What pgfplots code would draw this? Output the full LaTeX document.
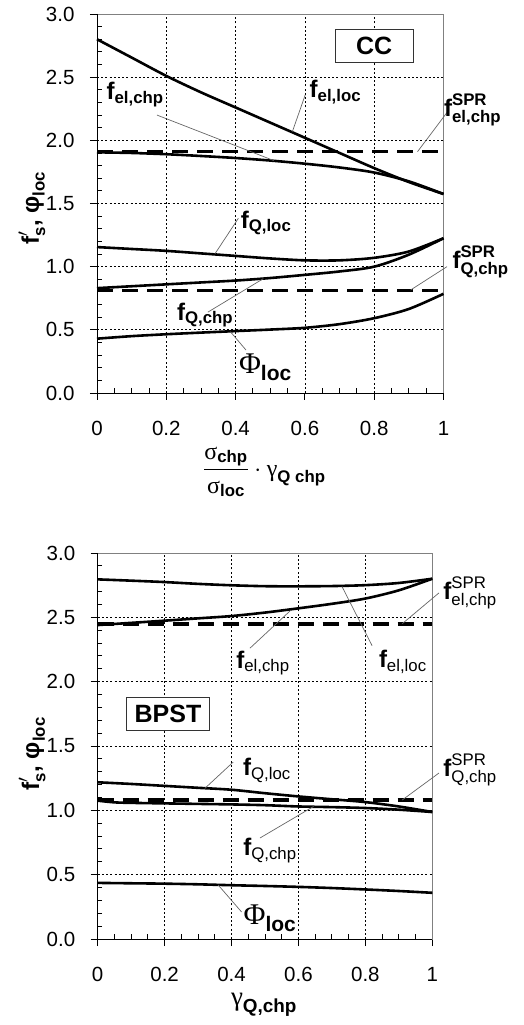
\documentclass[border=0pt]{standalone}
\usepackage{amsmath}
\usepackage{fontspec}
\setmainfont{Liberation Sans}
\newfontfamily\grk{Liberation Serif}
\usepackage{pgfplots}
\pgfplotsset{compat=1.18}

\pgfplotsset{
  myaxis/.style={
    scale only axis, clip=false,
    xmin=0, xmax=1, ymin=0, ymax=3,
    xtick={0,0.2,0.4,0.6,0.8,1}, ytick={0,0.5,1,1.5,2,2.5,3},
    minor x tick num=3, minor y tick num=4,
    tick pos=left, tick align=outside,
    major tick length=7pt, minor tick length=-4.5pt,
    tick style={black, line width=0.9pt},
    grid=major,
    major grid style={black, dash pattern=on 2pt off 2.2pt, line width=0.7pt},
    axis line style={black!50, line width=0.8pt},
    ticklabel style={font=\fontsize{20.5}{24}\selectfont},
    /pgf/number format/assume math mode=true,
    y tick label style={/pgf/number format/.cd, fixed, fixed zerofill, precision=1, /tikz/.cd, xshift=-12pt},
    x tick label style={yshift=-18pt},
  },
  curve/.style={black, line width=2.6pt, smooth, tension=0.5},
  spr/.style={black, line width=3.6pt, dash pattern=on 16pt off 9pt},
}
\tikzset{
  lead/.style={black!60, line width=0.7pt},
  lab/.style={font=\fontsize{24}{28}\selectfont\bfseries, inner sep=0pt},
  phl/.style={font=\fontsize{30}{32}\selectfont\bfseries, inner sep=0pt},
  boxl/.style={draw=black!80, line width=0.9pt, fill=white, font=\fontsize{25}{28}\selectfont\bfseries, minimum height=33pt, inner sep=0pt},
}

\begin{document}
\begin{tikzpicture}
\useasboundingbox (0,0) rectangle (523pt,1025pt);

% ---------------- top: CC ----------------
\begin{axis}[myaxis, at={(97pt,632pt)}, anchor=south west, width=346.5pt, height=379pt]
\addplot[curve] coordinates {(0,2.80) (0.1,2.655) (0.2,2.51) (0.3,2.38) (0.4,2.26) (0.5,2.14) (0.6,2.02) (0.7,1.90) (0.8,1.78) (0.9,1.67) (1,1.575)};
\addplot[curve] coordinates {(0,1.905) (0.1,1.90) (0.2,1.89) (0.3,1.876) (0.4,1.86) (0.5,1.84) (0.6,1.815) (0.7,1.785) (0.8,1.745) (0.9,1.675) (1,1.575)};
\addplot[spr] coordinates {(0,1.91) (1,1.91)};
\addplot[curve] coordinates {(0,1.155) (0.1,1.14) (0.2,1.125) (0.3,1.105) (0.4,1.085) (0.5,1.065) (0.6,1.05) (0.7,1.05) (0.8,1.07) (0.9,1.12) (1,1.225)};
\addplot[curve] coordinates {(0,0.83) (0.1,0.845) (0.2,0.86) (0.3,0.875) (0.4,0.89) (0.5,0.91) (0.6,0.935) (0.7,0.962) (0.8,1.0) (0.9,1.095) (1,1.225)};
\addplot[spr] coordinates {(0,0.81) (1,0.81)};
\addplot[curve] coordinates {(0,0.43) (0.1,0.45) (0.2,0.465) (0.3,0.478) (0.4,0.49) (0.5,0.502) (0.6,0.516) (0.7,0.545) (0.8,0.592) (0.9,0.665) (1,0.785)};

\draw[black, line width=0.9pt] (rel axis cs:0,1) -- (rel axis cs:0,0) -- (rel axis cs:1,0);

\draw[lead] (axis cs:0.601,2.36) -- (axis cs:0.564,2.07);
\draw[lead] (axis cs:0.173,2.20) -- (axis cs:0.51,1.84);
\draw[lead] (axis cs:1.01,2.22) -- (axis cs:0.925,1.91);
\draw[lead] (axis cs:0.408,1.383) -- (axis cs:0.34,1.10);
\draw[lead] (axis cs:1.01,1.00) -- (axis cs:0.905,0.815);
\draw[lead] (axis cs:0.32,0.64) -- (axis cs:0.48,0.905);
\draw[lead] (axis cs:0.43,0.34) -- (axis cs:0.385,0.485);

\node[boxl, minimum width=78pt] at (axis cs:0.80,2.75) {CC};
\node[lab] at (axis cs:0.688,2.38) {$\text{f}_{\text{el,loc}}$};
\node[lab] at (axis cs:0.11,2.36) {$\text{f}_{\text{el,chp}}$};
\node[lab] at (axis cs:1.084,2.24) {$\text{f}^{\text{SPR}}_{\text{el,chp}}$};
\node[lab] at (axis cs:0.488,1.346) {$\text{f}_{\text{Q,loc}}$};
\node[lab] at (axis cs:1.107,1.04) {$\text{f}^{\text{SPR}}_{\text{Q,chp}}$};
\node[lab] at (axis cs:0.312,0.618) {$\text{f}_{\text{Q,chp}}$};
\node[phl] at (axis cs:0.486,0.206) {$\text{\grk\mdseries Φ}_{\text{loc}}$};

\node[lab, rotate=90] at (axis cs:-0.188,1.465) {$\text{f}'_{\text{s}}$, $\text{φ}_{\text{loc}}$};
\node[font=\fontsize{24}{28}\selectfont] at (axis cs:0.483,-0.625) {$\dfrac{\text{\grk σ}_{\text{\bfseries chp}}}{\text{\grk σ}_{\text{\bfseries loc}}}\cdot\text{\grk γ}_{\text{\bfseries Q chp}}$};
\end{axis}

% ---------------- bottom: BPST ----------------
\begin{axis}[myaxis, at={(97.7pt,86pt)}, anchor=south west, width=334.6pt, height=386pt]
\addplot[curve] coordinates {(0,2.795) (0.1,2.785) (0.2,2.774) (0.3,2.76) (0.4,2.749) (0.5,2.742) (0.6,2.741) (0.7,2.743) (0.8,2.75) (0.9,2.767) (1,2.80)};
\addplot[curve] coordinates {(0,2.44) (0.1,2.457) (0.2,2.474) (0.3,2.492) (0.4,2.51) (0.5,2.537) (0.6,2.57) (0.7,2.605) (0.8,2.646) (0.9,2.71) (1,2.80)};
\addplot[spr] coordinates {(0,2.45) (1,2.45)};
\addplot[curve] coordinates {(0,1.218) (0.1,1.205) (0.2,1.19) (0.3,1.175) (0.4,1.16) (0.5,1.133) (0.6,1.108) (0.7,1.086) (0.8,1.064) (0.9,1.03) (1,0.987)};
\addplot[curve] coordinates {(0,1.075) (0.05,1.062) (0.1,1.058) (0.2,1.054) (0.3,1.05) (0.4,1.046) (0.5,1.04) (0.6,1.03) (0.7,1.025) (0.8,1.018) (0.9,1.005) (1,0.987)};
\addplot[spr] coordinates {(0,1.08) (1,1.08)};
\addplot[curve] coordinates {(0,0.436) (0.1,0.433) (0.2,0.43) (0.3,0.425) (0.4,0.418) (0.5,0.412) (0.6,0.405) (0.7,0.396) (0.8,0.385) (0.9,0.373) (1,0.359)};

\draw[black, line width=0.9pt] (rel axis cs:0,1) -- (rel axis cs:0,0) -- (rel axis cs:1,0);

\draw[lead] (axis cs:0.82,2.28) -- (axis cs:0.73,2.74);
\draw[lead] (axis cs:0.455,2.26) -- (axis cs:0.575,2.55);
\draw[lead] (axis cs:1.02,2.69) -- (axis cs:0.91,2.45);
\draw[lead] (axis cs:0.405,1.375) -- (axis cs:0.32,1.17);
\draw[lead] (axis cs:0.485,0.785) -- (axis cs:0.645,1.03);
\draw[lead] (axis cs:1.02,1.29) -- (axis cs:0.91,1.08);
\draw[lead] (axis cs:0.43,0.21) -- (axis cs:0.36,0.42);

\node[boxl, minimum width=83pt] at (axis cs:0.21,1.75) {BPST};
\node[lab] at (axis cs:0.912,2.152) {$\text{f}_{\text{\mdseries el,loc}}$};
\node[lab] at (axis cs:0.494,2.145) {$\text{f}_{\text{\mdseries el,chp}}$};
\node[lab] at (axis cs:1.113,2.69) {$\text{f}^{\text{\mdseries SPR}}_{\text{\mdseries el,chp}}$};
\node[lab] at (axis cs:0.506,1.313) {$\text{f}_{\text{\mdseries Q,loc}}$};
\node[lab] at (axis cs:0.515,0.69) {$\text{f}_{\text{\mdseries Q,chp}}$};
\node[lab] at (axis cs:1.113,1.313) {$\text{f}^{\text{\mdseries SPR}}_{\text{\mdseries Q,chp}}$};
\node[phl] at (axis cs:0.515,0.163) {$\text{\grk\mdseries Φ}_{\text{loc}}$};

\node[lab, rotate=90] at (axis cs:-0.196,1.44) {$\text{f}'_{\text{s}}$, $\text{φ}_{\text{loc}}$};
\node[font=\fontsize{27}{30}\selectfont, inner sep=1pt] at (axis cs:0.497,-0.51) {$\text{\grk γ}_{\text{\bfseries Q,chp}}$};
\end{axis}
\end{tikzpicture}
\end{document}
